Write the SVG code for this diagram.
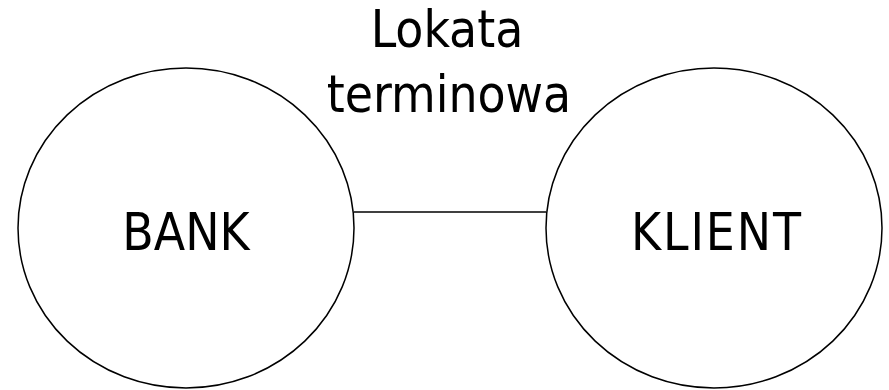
<svg xmlns="http://www.w3.org/2000/svg" width="889" height="390" viewBox="0 0 889 390">
<style>
.n{fill:#fff;stroke:#000;stroke-width:1.5}
.t{font-family:"DejaVu Sans Condensed","DejaVu Sans",Verdana,sans-serif;font-size:51px;fill:#000;text-anchor:middle}
.c{stroke:#000;stroke-width:1.5;fill:none}
</style>
<rect width="889" height="390" fill="#fff"/>
<g id="connectors">
<line class="c" x1="354" y1="212" x2="546" y2="212"/>
</g>
<g id="bank">
<ellipse class="n" cx="186" cy="228" rx="168" ry="160"/>
<text class="t" x="186" y="250">BANK</text>
</g>
<g id="klient">
<ellipse class="n" cx="714" cy="228" rx="168" ry="160"/>
<text class="t" x="716" y="250" textLength="170" lengthAdjust="spacing">KLIENT</text>
</g>
<g id="label">
<text class="t" x="447" y="47">Lokata</text>
<text class="t" x="449" y="112">terminowa</text>
</g>
</svg>
